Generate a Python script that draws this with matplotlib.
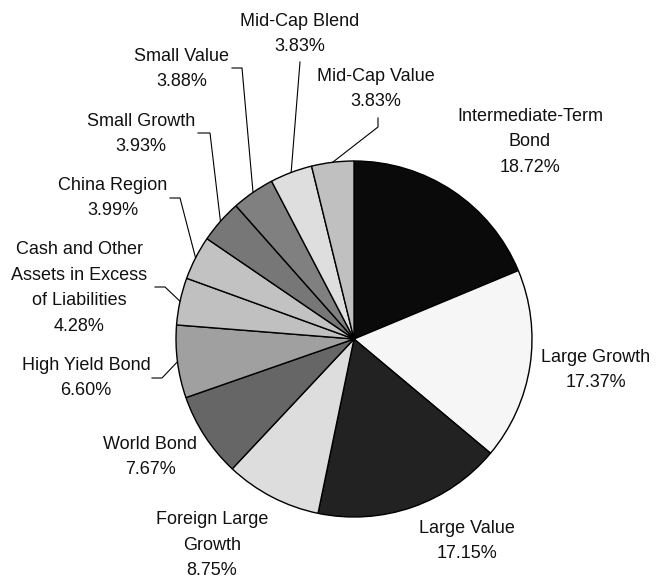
import matplotlib
matplotlib.use('Agg')
import matplotlib.pyplot as plt
import numpy as np

# ---- data ----
categories = ["Intermediate-Term\nBond", "Large Growth", "Large Value",
              "Foreign Large\nGrowth", "World Bond", "High Yield Bond",
              "Cash and Other\nAssets in Excess\nof Liabilities", "China Region",
              "Small Growth", "Small Value", "Mid-Cap Blend", "Mid-Cap Value"]
values = [18.72, 17.37, 17.15, 8.75, 7.67, 6.60, 4.28, 3.99, 3.93, 3.88, 3.83, 3.83]

# ---- styles / layout ----
colors = ["#0a0a0a", "#f6f6f6", "#222222", "#dddddd", "#666666", "#a0a0a0",
          "#c0c0c0", "#c2c2c2", "#777777", "#808080", "#dedede", "#c0c0c0"]

W, H = 657, 579
plt.rcParams['font.family'] = ['Liberation Sans', 'DejaVu Sans']

fig = plt.figure(figsize=(W / 100, H / 100), dpi=100)
ax = fig.add_axes([0, 0, 1, 1])

cx, cy, R = 354, H - 339, 178
wedges, _ = ax.pie(values, colors=colors, startangle=90, counterclock=False,
                   center=(cx, cy), radius=R,
                   wedgeprops=dict(edgecolor='black', linewidth=1.0))
ax.set_xlim(0, W)
ax.set_ylim(0, H)
ax.set_aspect('equal')
ax.axis('off')

# label centres in pixel coordinates (x, y from top)
label_pos = [(530, 142), (596, 370), (467, 541), (212, 545), (150, 457),
             (86, 378), (79, 288), (113, 198), (141, 134), (182, 69),
             (300, 34), (376, 89)]
# leader line points (pixel coords) from label side; last point is wedge edge
leaders = {
    11: [(378, 118), (378, 127)],
    10: [(300, 62)],
    9: [(232, 68), (242, 68)],
    8: [(198, 133), (210, 133)],
    7: [(170, 198), (180, 198)],
    6: [(155, 287), (165, 287)],
    5: [(152, 378), (162, 378)],
}

for i, (name, v) in enumerate(zip(categories, values)):
    x, y = label_pos[i]
    ax.text(x, H - y, f"{name}\n{v:.2f}%", ha='center', va='center',
            fontsize=13, linespacing=1.68, color='#111111')
    if i in leaders:
        w = wedges[i]
        ang = np.deg2rad((w.theta1 + w.theta2) / 2)
        ex, ey = cx + R * np.cos(ang), cy + R * np.sin(ang)
        pts = [(px, H - py) for px, py in leaders[i]] + [(ex, ey)]
        xs, ys = zip(*pts)
        ax.plot(xs, ys, color='black', linewidth=0.8)

fig.savefig('out.png', dpi=100)
